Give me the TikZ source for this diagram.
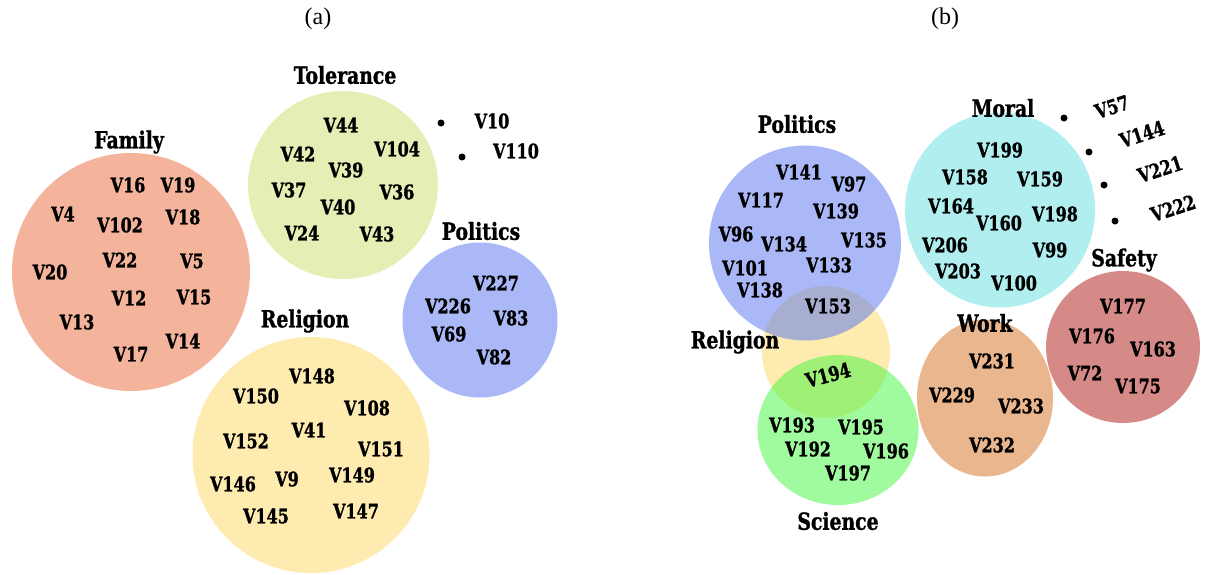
\documentclass[tikz,border=0pt]{standalone}
\usepackage{fontspec}
\setmainfont{Liberation Serif}
\newfontfamily\varfont{DejaVu Serif}[FakeStretch=0.8, FakeBold=1.2]
\usetikzlibrary{shapes.geometric}

% base colours, laid down at half opacity
\definecolor{cFamily}{RGB}{233,105,57}
\definecolor{cTolerance}{RGB}{199,223,107}
\definecolor{cPolitics}{RGB}{85,113,241}
\definecolor{cReligion}{RGB}{251,215,97}
\definecolor{cMoral}{RGB}{97,221,225}
\definecolor{cScience}{RGB}{65,245,61}
\definecolor{cWork}{RGB}{213,109,29}
\definecolor{cSafety}{RGB}{173,21,17}

\tikzset{
  blob/.style={ellipse, draw=none, fill=#1, fill opacity=0.5, inner sep=0pt},
  var/.style={font=\varfont\bfseries\fontsize{20}{22}\selectfont, inner sep=0pt},
  grp/.style={font=\varfont\bfseries\fontsize{23.5}{26}\selectfont, inner sep=0pt},
  panelcaption/.style={font=\fontsize{24}{28}\selectfont, inner sep=0pt},
  dot/.style={circle, fill=black, inner sep=0pt, minimum size=7pt},
}

\begin{document}
\begin{tikzpicture}[x=1pt, y=-1pt]
\useasboundingbox (0,0) rectangle (1206,574);

% ---------------- panel (a) ----------------
\node[panelcaption] (capA) at (318,19) {(a)};

\node[blob=cFamily, minimum width=238pt, minimum height=238pt] (famA) at (131,272) {};
\node[blob=cTolerance, minimum width=190pt, minimum height=188pt] (tolA) at (343,185) {};
\node[blob=cPolitics, minimum width=155pt, minimum height=155pt] (polA) at (480,320) {};
\node[blob=cReligion, minimum width=237pt, minimum height=236pt] (relA) at (311,455) {};

\node[grp] (famAlbl) at (129,142) {Family};
\node[grp] (tolAlbl) at (345,75) {Tolerance};
\node[grp] (polAlbl) at (481,231) {Politics};
\node[grp] (relAlbl) at (305,321) {Religion};

% Family
\node[var] (v16) at (128,185) {V16};
\node[var] (v19) at (178,185) {V19};
\node[var] (v4) at (63,214) {V4};
\node[var] (v102) at (120,225) {V102};
\node[var] (v18) at (183,217) {V18};
\node[var] (v22) at (120,260) {V22};
\node[var] (v5) at (192,261) {V5};
\node[var] (v20) at (50,272) {V20};
\node[var] (v12) at (129,298) {V12};
\node[var] (v15) at (194,297) {V15};
\node[var] (v13) at (77,322) {V13};
\node[var] (v14) at (183,341) {V14};
\node[var] (v17) at (131,354) {V17};

% Tolerance
\node[var] (v44) at (341,125) {V44};
\node[var] (v42) at (298,154) {V42};
\node[var] (v39) at (346,170) {V39};
\node[var] (v104) at (397,149) {V104};
\node[var] (v37) at (289,190) {V37};
\node[var] (v36) at (397,192) {V36};
\node[var] (v40) at (338,207) {V40};
\node[var] (v24) at (302,233) {V24};
\node[var] (v43) at (377,234) {V43};

% loose variables
\node[dot] (d10) at (441,123) {};
\node[dot] (d110) at (462,157) {};
\node[var] (v10) at (492,121) {V10};
\node[var] (v110) at (516,151) {V110};

% Politics
\node[var] (v227) at (496,283) {V227};
\node[var] (v226) at (448,306) {V226};
\node[var] (v83) at (511,318) {V83};
\node[var] (v69) at (449,334) {V69};
\node[var] (v82) at (494,357) {V82};

% Religion
\node[var] (v148) at (312,376) {V148};
\node[var] (v150) at (256,396) {V150};
\node[var] (v108) at (367,408) {V108};
\node[var] (v152) at (246,441) {V152};
\node[var] (v41) at (309,430) {V41};
\node[var] (v151) at (381,449) {V151};
\node[var] (v146) at (233,484) {V146};
\node[var] (v9) at (287,479) {V9};
\node[var] (v149) at (352,475) {V149};
\node[var] (v145) at (266,516) {V145};
\node[var] (v147) at (356,511) {V147};

% ---------------- panel (b) ----------------
\node[panelcaption] (capB) at (945,19) {(b)};

\node[blob=cReligion, minimum width=128pt, minimum height=132pt] (relB) at (826,352) {};
\node[blob=cPolitics, minimum width=192pt, minimum height=195pt] (polB) at (805,243) {};
\node[blob=cScience, minimum width=161pt, minimum height=150pt] (sciB) at (838,430) {};
\node[blob=cMoral, minimum width=190pt, minimum height=195pt] (morB) at (1000,210) {};
\node[blob=cWork, minimum width=136pt, minimum height=157pt] (wrkB) at (985,398) {};
\node[blob=cSafety, minimum width=154pt, minimum height=152pt] (safB) at (1123,347) {};

\node[grp] (polBlbl) at (797,124) {Politics};
\node[grp] (relBlbl) at (735,342) {Religion};
\node[grp] (sciBlbl) at (838,521) {Science};
\node[grp] (morBlbl) at (1003,108) {Moral};
\node[grp] (wrkBlbl) at (985,323) {Work};
\node[grp] (safBlbl) at (1124,260) {Safety};

% Politics
\node[var] (v141) at (799,172) {V141};
\node[var] (v97) at (849,184) {V97};
\node[var] (v117) at (761,200) {V117};
\node[var] (v139) at (836,211) {V139};
\node[var] (v96) at (736,234) {V96};
\node[var] (v134) at (784,244) {V134};
\node[var] (v135) at (864,240) {V135};
\node[var] (v101) at (745,268) {V101};
\node[var] (v133) at (829,265) {V133};
\node[var] (v138) at (760,290) {V138};

% Religion / Science
\node[var] (v153) at (828,306) {V153};
\node[var, rotate=15] (v194) at (828,375) {V194};
\node[var] (v193) at (792,425) {V193};
\node[var] (v195) at (861,427) {V195};
\node[var] (v192) at (808,449) {V192};
\node[var] (v196) at (886,451) {V196};
\node[var] (v197) at (848,473) {V197};

% Moral
\node[var] (v199) at (1000,150) {V199};
\node[var] (v158) at (965,177) {V158};
\node[var] (v159) at (1040,179) {V159};
\node[var] (v164) at (951,206) {V164};
\node[var] (v160) at (999,223) {V160};
\node[var] (v198) at (1055,214) {V198};
\node[var] (v206) at (945,245) {V206};
\node[var] (v99) at (1050,250) {V99};
\node[var] (v203) at (958,271) {V203};
\node[var] (v100) at (1014,283) {V100};

% loose variables
\node[dot] (d57) at (1064,118) {};
\node[dot] (d144) at (1089,152) {};
\node[dot] (d221) at (1104,185) {};
\node[dot] (d222) at (1115,221) {};
\node[var, rotate=18] (v57) at (1112,107) {V57};
\node[var, rotate=18] (v144) at (1142,134) {V144};
\node[var, rotate=18] (v221) at (1160,169) {V221};
\node[var, rotate=18] (v222) at (1173,208) {V222};

% Work
\node[var] (v231) at (992,361) {V231};
\node[var] (v229) at (952,395) {V229};
\node[var] (v233) at (1021,406) {V233};
\node[var] (v232) at (992,445) {V232};

% Safety
\node[var] (v177) at (1123,306) {V177};
\node[var] (v176) at (1092,336) {V176};
\node[var] (v163) at (1153,349) {V163};
\node[var] (v72) at (1085,373) {V72};
\node[var] (v175) at (1138,386) {V175};
\end{tikzpicture}
\end{document}
